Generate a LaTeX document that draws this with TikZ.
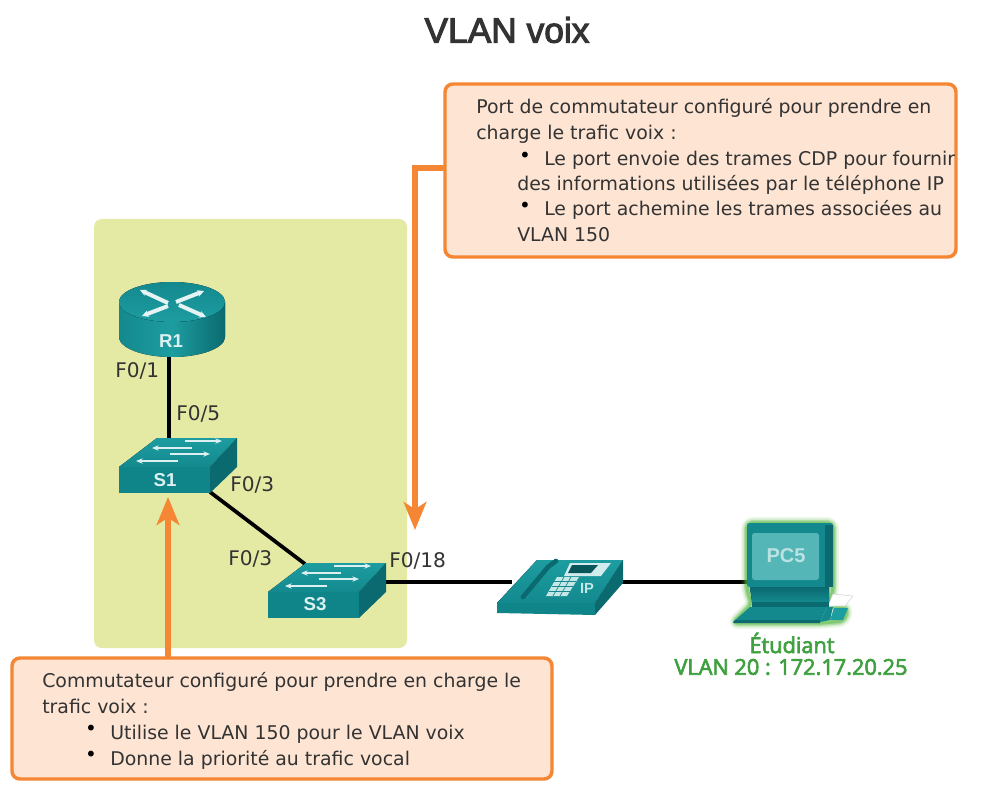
\documentclass[tikz,border=0pt]{standalone}
\usepackage{fontspec}
\setmainfont{DejaVu Sans}
\newfontfamily\titlefont[FakeBold=3]{Liberation Sans}
\newfontfamily\iconfont{Liberation Sans}
\newfontfamily\greenfont[FakeBold=3]{Open Sans}
\usetikzlibrary{arrows.meta,shadings,calc}
\definecolor{panelc}{HTML}{E4EAA4}
\definecolor{orangeb}{HTML}{F58634}
\definecolor{calloutf}{HTML}{FDE4D3}
\definecolor{inkc}{HTML}{333333}
\definecolor{greenc}{HTML}{3FA03F}
\definecolor{glowc}{HTML}{4FB53A}
\definecolor{tealm}{HTML}{13898E}
\definecolor{teald}{HTML}{0A6A70}
\definecolor{teall}{HTML}{1D9DA0}
\definecolor{tealf}{HTML}{0F8589}
\tikzset{
  x=0.75pt,y=-0.75pt,
  panel/.style={fill=panelc,draw=none,rounded corners=6pt},
  callout/.style={fill=calloutf,draw=orangeb,line width=2.6pt,rounded corners=6pt,outer sep=0pt},
  orangearrow/.style={draw=orangeb,line width=3.8pt,-{Stealth[length=21pt,width=17pt,inset=5.5pt]}},
  link/.style={draw=black,line width=2.8pt},
  txt/.style={anchor=base west,inner sep=0pt,text=inkc,font=\fontsize{14.17}{16}\selectfont},
  bul/.style={anchor=center,inner sep=0pt,text=black,font=\fontsize{15}{16}\selectfont},
  port/.style={anchor=base west,inner sep=0pt,text=inkc,font=\fontsize{15.1}{16}\selectfont},
  icontext/.style={inner sep=0pt,text=white!85!teall,font=\iconfont\bfseries\fontsize{14}{16}\selectfont},
  greentxt/.style={inner sep=0pt,text=greenc,font=\greenfont\fontsize{16.3}{18}\selectfont},
  wa/.style={draw=white!85!teall,line width=1.3pt,-{Stealth[length=5pt,width=4pt]}},
  wb/.style={draw=white!88!teall,line width=3pt,-{Stealth[length=5pt,width=5pt]}},
}
\newcommand{\swicon}{%
  \fill[top color=teall,bottom color=tealm] (119,467) -- (157,438) -- (237,438) -- (210,467) -- cycle;
  \fill[tealf] (119,467) -- (210,467) -- (210,493) -- (119,493) -- cycle;
  \fill[teald] (210,467) -- (237,438) -- (237,467) -- (210,493) -- cycle;
  \draw[wa] (185,441) -- (222,441);
  \draw[wa] (192,448) -- (152,448);
  \draw[wa] (170,454) -- (210,454);
  \draw[wa] (178,461) -- (136,461);
}
\begin{document}
\begin{tikzpicture}
\useasboundingbox (0,0) rectangle (983,806);
\fill[white] (0,0) rectangle (983,806);
\node[anchor=center,inner sep=0pt,text=inkc,font=\titlefont\fontsize{26.5}{30}\selectfont] (title) at (507,30) {VLAN voix};

\fill[panel] (94,219) rectangle (407,648);

% named ends
\coordinate (a1s) at (445,168);
\coordinate (a1k) at (415,168);
\coordinate (a1e) at (415,530);
\coordinate (a2s) at (168,658);
\coordinate (a2e) at (168,497);
\coordinate (r1p) at (169,355);
\coordinate (s1t) at (169,440);
\coordinate (s1p) at (210,492);
\coordinate (s3t) at (305,564);
\coordinate (s3p) at (385,582);
\coordinate (php) at (512,582);
\coordinate (phr) at (620,582);
\coordinate (pcp) at (750,582);

\draw[link] (r1p) -- (s1t);
\draw[link] (s1p) -- (s3t);
\draw[link] (s3p) -- (php);
\draw[link] (phr) -- (pcp);

% router
\fill[left color=tealm,right color=teald,middle color=teall] (119,302) -- (119,337) .. controls (119,348) and (143,357) .. (172,357) .. controls (201,357) and (225,348) .. (225,337) -- (225,302) -- cycle;
\fill[top color=tealm,bottom color=teall] (172,302) ellipse[x radius=53,y radius=20];
\draw[wb] (168,303) -- (140,290);
\draw[wb] (176,302) -- (204,291);
\draw[wb] (168,306) -- (142,316);
\draw[wb] (179,305) -- (206,317);
\node[icontext] (R1) at (171,341) {R1};

% switches
\swicon
\node[icontext] (S1) at (165,480) {S1};
\begin{scope}[shift={(149,125)}]
\swicon
\end{scope}
\node[icontext] (S3) at (315,604) {S3};

% phone
\fill[top color=teall,bottom color=tealm] (497,603) -- (537,560) -- (623,560) -- (595,603) -- cycle;
\fill[tealf] (497,603) -- (595,603) -- (595,615) -- (497,613) -- cycle;
\fill[teald] (595,603) -- (623,560) -- (623,583) -- (595,615) -- cycle;
\draw[teald,line width=3.5pt,line cap=round] (523,597) -- (548,567) -- (556,561);
\fill[white!80!teall] (564,576) -- (570,563) -- (611,563) -- (601,576) -- cycle;
\fill[teald!80!black] (568,573) -- (572,565) -- (598,565) -- (591,573) -- cycle;
\fill[white!75!teall] (546,596) -- (557,577) -- (579,577) -- (567,596) -- cycle;
\foreach \i in {0.25,0.5,0.75} {
  \draw[tealm,line width=0.5pt] ($(546,596)!\i!(557,577)$) -- ($(567,596)!\i!(579,577)$);
}
\draw[tealm,line width=0.5pt] (553,596) -- (564,577);
\draw[tealm,line width=0.5pt] (560,596) -- (571,577);
\node[inner sep=0pt,text=white!75!teall,font=\iconfont\bfseries\fontsize{11}{13}\selectfont] (IP) at (587,588) {IP};

% PC glow
\foreach \w/\o in {9/0.1,6.5/0.16,4.5/0.28,2.5/0.45} {
  \draw[draw=glowc,line width=\w pt,opacity=\o,line join=round,rounded corners=4pt]
    (747,523) -- (833,523) -- (833,590) -- (829,606) -- (848,608) -- (844,621) -- (820,623) -- (733,623) -- (752,604) -- (747,590) -- cycle;
}
% PC
\draw[gray!30,fill=white,line width=0.5pt] (833,594) -- (853,596) -- (845,606) -- (828,606) -- cycle;
\fill[tealm,rounded corners=2pt] (747,523) rectangle (833,587);
\fill[teald] (825,525) rectangle (833,587);
\fill[teall!75!white,rounded corners=2pt] (752,533) rectangle (819,580);
\fill[top color=teald,bottom color=tealm] (750,587) -- (829,587) -- (829,602) -- (752,602) -- cycle;
\fill[teald] (752,602) rectangle (829,607);
\fill[tealm] (750,607) -- (827,607) -- (820,622) -- (733,622) -- cycle;
\fill[teald] (735,620) -- (820,620) -- (820,623) -- (733,623) -- cycle;
\fill[tealm] (820,622) -- (827,607) -- (833,607) -- (830,620) -- cycle;
\fill[teall] (830,620) -- (834,608) -- (848,608) -- (843,620) -- cycle;
\node[icontext,text=white!70!teall,font=\iconfont\bfseries\fontsize{15}{17}\selectfont] (PC5) at (786,556) {PC5};

% orange arrows
\draw[orangearrow] (a1s) -- (a1k) -- (a1e);
\draw[orangearrow] (a2s) -- (a2e);

% callouts
\node[callout,anchor=north west,minimum width=383.25pt,minimum height=129.75pt,inner sep=0pt] (box1) at (445,84) {};
\node[callout,anchor=north west,minimum width=405pt,minimum height=90.75pt,inner sep=0pt] (box2) at (12,658) {};

\node[txt] (t1) at (476,114) {Port de commutateur configuré pour prendre en};
\node[txt] (t2) at (476,140) {charge le trafic voix :};
\node[bul] (b3) at (525,157) {•};
\node[txt] (t3) at (544,166) {Le port envoie des trames CDP pour fournir};
\node[txt] (t4) at (517,191) {des informations utilisées par le téléphone IP};
\node[bul] (b5) at (525,207) {•};
\node[txt] (t5) at (544,216) {Le port achemine les trames associées au};
\node[txt] (t6) at (517,242) {VLAN 150};

\node[txt] (u1) at (42,687) {Commutateur configuré pour prendre en charge le};
\node[txt] (u2) at (42,713) {trafic voix :};
\node[bul] (b7) at (91,730) {•};
\node[txt] (u3) at (110,739) {Utilise le VLAN 150 pour le VLAN voix};
\node[bul] (b8) at (91,756) {•};
\node[txt] (u4) at (110,765) {Donne la priorité au trafic vocal};

% ports
\node[port] (p1) at (115,378) {F0/1};
\node[port] (p2) at (176,421) {F0/5};
\node[port] (p3) at (230,491) {F0/3};
\node[port] (p4) at (228,565) {F0/3};
\node[port] (p5) at (389,567) {F0/18};

\node[greentxt] (g1) at (792,643) {Étudiant};
\node[greentxt] (g2) at (791,667) {VLAN 20 : 172.17.20.25};
\end{tikzpicture}
\end{document}
